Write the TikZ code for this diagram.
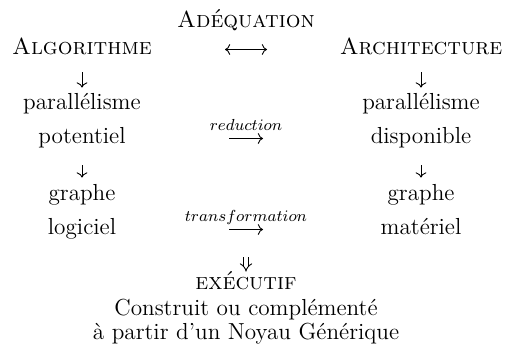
\documentclass[tikz,border=0pt]{standalone}
\usepackage{tikz}
\usetikzlibrary{arrows.meta,positioning}

\tikzset{
    cmar/.style={line width=.45pt,-{Computer Modern Rightarrow[length=2.6pt,width=5.4pt]}},
    cmboth/.style={line width=.45pt,{Computer Modern Rightarrow[length=2.6pt,width=5.4pt]}-{Computer Modern Rightarrow[length=2.6pt,width=5.4pt]}},
    imp/.style={draw=black,double=white,double distance=1.7pt,line width=.45pt,-{Implies}},
    lbl/.style={anchor=base,yshift=4pt}
}

\begin{document}
\begin{tikzpicture}[node distance=17pt and 82pt,on grid,auto,
        every node/.style={font=\fontsize{11.6}{14}\selectfont,text height=8pt,text depth=2.5pt,inner sep=1pt}]
    \useasboundingbox (0,0) rectangle (253.5pt,-175.5pt);
    % les deux colonnes
    \node (algo) at (41pt,-24.75pt) {\textsc{Algorithme}};
    \node (archi) [right=169.5pt of algo] {\textsc{Architecture}};
    \node (par1) [below=27.5pt of algo] {parallélisme};
    \node (pot) [below=of par1] {potentiel};
    \node (gra1) [below=28.5pt of pot] {graphe};
    \node (log) [below=of gra1] {logiciel};
    \node (par2) [below=27.5pt of archi] {parallélisme};
    \node (disp) [below=of par2] {disponible};
    \node (gra2) [below=28.5pt of disp] {graphe};
    \node (mat) [below=of gra2] {matériel};
    % colonne du milieu
    \node (adeq) [above right=13.5pt and 82pt of algo] {\textsc{Adéquation}};
    \node (exe) [below right=27.5pt and 82pt of log] {\textsc{exécutif}};
    \node (cons) [below=12.5pt of exe] {Construit ou complémenté};
    \node (gen) [below=12pt of cons] {à partir d'un Noyau Générique};
    \coordinate (adq) at (adeq |- algo);
    \coordinate (adq-w) at ([xshift=-10.5pt]adq);
    \coordinate (adq-e) at ([xshift=10.5pt]adq);
    \coordinate (red) at (adeq |- pot);
    \coordinate (red-w) at ([xshift=-8.5pt]red);
    \coordinate (red-e) at ([xshift=8.5pt]red);
    \coordinate (trf) at (adeq |- log);
    \coordinate (trf-w) at ([xshift=-8.5pt]trf);
    \coordinate (trf-e) at ([xshift=8.5pt]trf);
    \coordinate (imp-n) at ([yshift=-14pt]trf);
    \node [lbl] (redl) at (red) {$\scriptstyle reduction$};
    \node [lbl] (trfl) at (trf) {$\scriptstyle transformation$};

    \path[cmar]
        (algo) edge [shorten <=5pt, shorten >=2pt] (par1)
        (archi) edge [shorten <=5pt, shorten >=2pt] (par2)
        (pot) edge [shorten <=7pt, shorten >=2.5pt] (gra1)
        (disp) edge [shorten <=7pt, shorten >=2.5pt] (gra2)
        (red-w) edge (red-e)
        (trf-w) edge (trf-e);
    \draw[cmboth] (adq-w) -- (adq-e);
    \draw[imp] (imp-n) -- (exe.north);
\end{tikzpicture}
\end{document}
